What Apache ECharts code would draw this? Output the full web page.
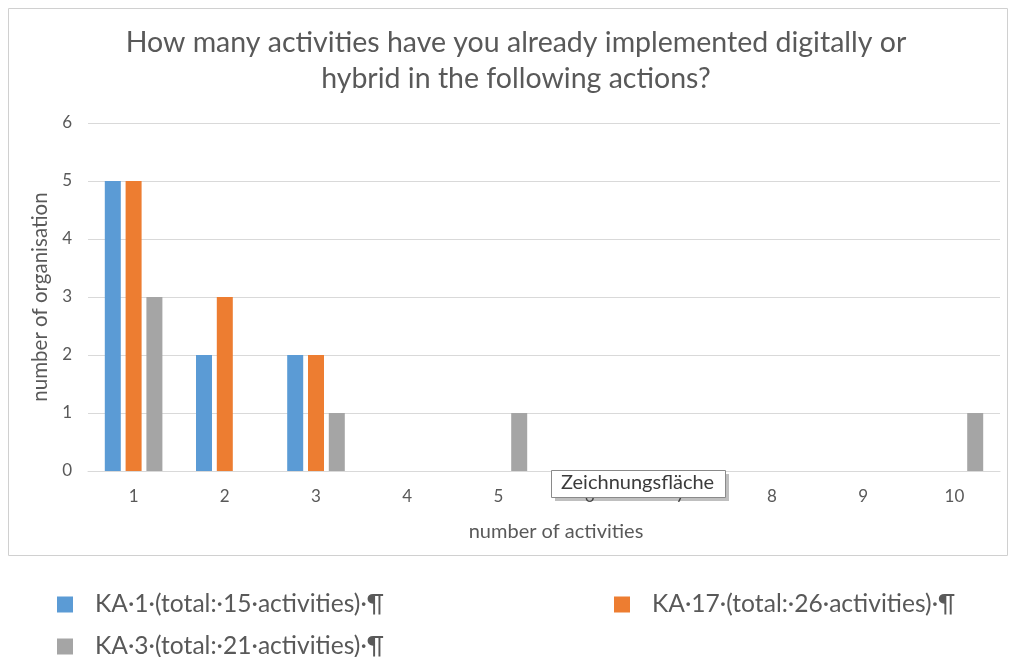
<!DOCTYPE html>
<html><head><meta charset="utf-8">
<script src="https://cdn.jsdelivr.net/npm/echarts@6/dist/echarts.min.js"></script>
<style>html,body{margin:0;padding:0;background:#fff}#c{width:1009px;height:657px}</style>
</head><body><div id="c"></div>
<script>
const categories = ['1','2','3','4','5','6','7','8','9','10'];
const seriesNames = ['KA·1·(total:·15·activities)·¶','KA·17·(total:·26·activities)·¶','KA·3·(total:·21·activities)·¶'];
const ka1 = [5,2,2,0,0,0,0,0,0,0];
const ka17 = [5,3,2,0,0,0,0,0,0,0];
const ka3 = [3,0,1,0,1,0,0,0,0,1];
const yTicks = [0,1,2,3,4,5,6];
const colors = ['#5b9bd5','#ed7d31','#a5a5a5'];
const titleText = 'How many activities have you already implemented digitally or\nhybrid in the following actions?';

const FONT = 'Lato';
const chart = echarts.init(document.getElementById('c'));
const values = [ka1, ka17, ka3];
const legendPos = [{left:57, top:592},{left:614, top:592},{left:57, top:634}];
chart.setOption({
  animation:false,
  textStyle:{fontFamily:FONT},
  title:{text:titleText,left:511,top:20,textAlign:'center',
    textStyle:{fontFamily:FONT,fontSize:28.5,fontWeight:'normal',color:'#595959',lineHeight:36}},
  legend: seriesNames.map((n,i)=>({data:[n],left:legendPos[i].left,top:legendPos[i].top,
    itemWidth:16,itemHeight:16,icon:'rect',itemGap:10,padding:0,
    textStyle:{fontFamily:FONT,fontSize:24.6,color:'#595959',padding:[0,0,0,17]}})),
  grid:{left:88,right:9,top:123,bottom:186},
  xAxis:{type:'category',data:categories,name:'number of activities',nameLocation:'middle',nameGap:51,
    nameTextStyle:{fontFamily:FONT,fontSize:20,color:'#595959',padding:[0,0,0,24]},
    axisLine:{lineStyle:{color:'#d9d9d9'}},axisTick:{show:false},
    axisLabel:{margin:17,fontSize:17,color:'#595959',fontFamily:FONT}},
  yAxis:{type:'value',min:yTicks[0],max:yTicks[yTicks.length-1],interval:1,
    name:'number of organisation',nameLocation:'middle',nameGap:36,
    nameTextStyle:{fontFamily:FONT,fontSize:20.5,color:'#595959'},
    axisLabel:{margin:16,fontSize:17,color:'#595959',fontFamily:FONT},
    splitLine:{lineStyle:{color:'#d9d9d9'}}},
  series: seriesNames.map((n,i)=>({name:n,type:'bar',data:values[i],barWidth:16,barGap:'30%',
    itemStyle:{color:colors[i]}})),
  graphic:[
    {type:'rect',shape:{x:8.5,y:8.5,width:999,height:547},style:{fill:'none',stroke:'#d0d0d0',lineWidth:1},z:-10},
    {type:'rect',shape:{x:555,y:474,width:174,height:27},style:{fill:'rgba(0,0,0,0.25)'},z:99},
    {type:'rect',shape:{x:551.5,y:470.5,width:174,height:27},style:{fill:'#ffffff',stroke:'#8a8a8a',lineWidth:1},z:100},
    {type:'text',left:561,top:473,style:{text:'Zeichnungsfläche',fontFamily:FONT,fontSize:20,fill:'#3b3b3b'},z:101}
  ]
});
</script></body></html>
